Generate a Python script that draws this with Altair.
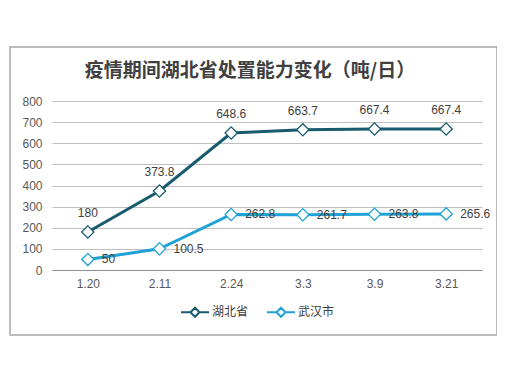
import altair as alt
import pandas as pd

dates = ["1.20", "2.11", "2.24", "3.3", "3.9", "3.21"]
hubei = [180, 373.8, 648.6, 663.7, 667.4, 667.4]
wuhan = [50, 100.5, 262.8, 261.7, 263.8, 265.6]
series = ["湖北省", "武汉市"]
colors = ["#185A6E", "#1FA3D6"]
y_ticks = [0, 100, 200, 300, 400, 500, 600, 700, 800]

rows = []
for d, h, w in zip(dates, hubei, wuhan):
    rows.append({"date": d, "series": series[0], "value": h, "label": f"{h:g}"})
    rows.append({"date": d, "series": series[1], "value": w, "label": f"{w:g}"})
df = pd.DataFrame(rows)

FONT = "Liberation Sans"
CJK = "Noto Sans CJK SC"

x = alt.X("date:N", sort=dates, scale=alt.Scale(domain=dates, paddingOuter=0.5),
          axis=alt.Axis(title=None, labelAngle=0, ticks=False, labelPadding=8,
                        labelFont=FONT, labelFontSize=12, labelColor="#595959",
                        domainColor="#8C8C8C", domainWidth=1, grid=False))
y = alt.Y("value:Q", scale=alt.Scale(domain=[0, 800], nice=False),
          axis=alt.Axis(title=None, values=y_ticks, ticks=False, domain=False,
                        labelPadding=10, labelFont=FONT, labelFontSize=12,
                        labelColor="#595959", gridColor="#BFBFBF", gridWidth=1))
stroke = alt.Stroke("series:N", sort=series,
                    scale=alt.Scale(domain=series, range=colors),
                    legend=alt.Legend(title=None, orient="none", direction="horizontal",
                                      legendX=128, legendY=196,
                                      symbolType="M-1,0L-0.32,0M0.32,0L1,0M-0.32,0L0,-0.32L0.32,0L0,0.32Z",
                                      symbolSize=784, symbolStrokeWidth=2,
                                      symbolFillColor="white",
                                      labelFont=CJK, labelFontSize=12, labelColor="#404040",
                                      labelOffset=2, columnPadding=14))

base = alt.Chart(df)
lines = base.mark_line(strokeWidth=3).encode(x=x, y=y, stroke=stroke)
points_bg = base.mark_point(shape="diamond", filled=True, fill="white", stroke="white",
                            strokeWidth=0, size=150, opacity=1).encode(x=x, y=y)
points = base.mark_point(shape="diamond", filled=False, size=150,
                         strokeWidth=1.3, opacity=1).encode(x=x, y=y, stroke=stroke)

lab_h = base.transform_filter(alt.datum.series == series[0]).mark_text(
    font=FONT, fontSize=12, color="#404040", dy=-19, align="center").encode(
    x=x, y=y, text="label:N")
lab_w = base.transform_filter(alt.datum.series == series[1]).mark_text(
    font=FONT, fontSize=12, color="#404040", dx=14, align="left", baseline="middle").encode(
    x=x, y=y, text="label:N")

border = alt.Chart(pd.DataFrame({"k": [0]})).mark_rect(
    fill=None, stroke="#A6A6A6", strokeWidth=1.5, clip=False).encode(
    x=alt.value(-42), x2=alt.value(445), y=alt.value(-54), y2=alt.value(234))

title = alt.Chart(pd.DataFrame({"t": ["疫情期间湖北省处置能力变化（吨/日）"]})).mark_text(
    font=CJK, fontSize=19, fontWeight="bold", color="#404040",
    align="center", baseline="middle").encode(
    text="t:N", x=alt.value(198), y=alt.value(-30))

chart = alt.layer(border, title, lines, points_bg, points, lab_h, lab_w).properties(
    width=430, height=169,
    autosize=alt.AutoSizeParams(type="none"),
    padding={"left": 44, "top": 93, "right": 15, "bottom": 102},
    background="white",
).configure_view(stroke=None)

chart.save("out.html", embed_options={"renderer": "svg", "actions": False})
